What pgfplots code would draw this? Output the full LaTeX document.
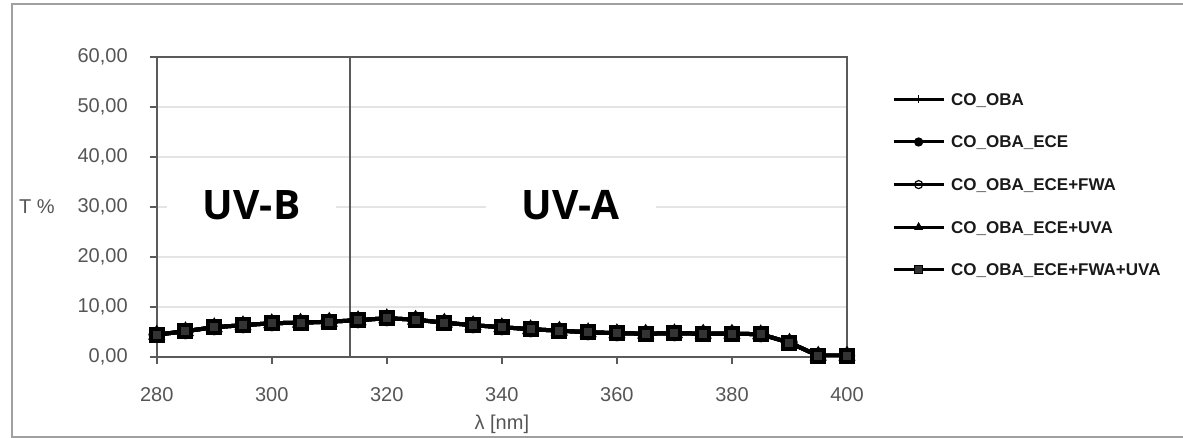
\documentclass[border=0pt]{standalone}
\usepackage{fontspec}
\setmainfont{Liberation Sans}
\newfontfamily\uvfont{Open Sans}
\usepackage{pgfplots}
\usepackage{pgfplotstable}
\pgfplotsset{compat=1.18}
\definecolor{axisgray}{HTML}{5A5A5A}
\definecolor{gridgray}{HTML}{E4E4E4}
\definecolor{labelgray}{HTML}{555555}
\definecolor{framegray}{HTML}{A0A0A0}

% transmittance T% vs wavelength (all five samples practically coincide)
\pgfplotstableread{
x T
280 4.4
285 5.1
290 5.9
295 6.3
300 6.7
305 6.8
310 7.0
315 7.3
320 7.7
325 7.4
330 6.8
335 6.3
340 5.9
345 5.5
350 5.2
355 4.9
360 4.7
365 4.6
370 4.7
375 4.6
380 4.6
385 4.5
390 2.8
395 0.2
400 0.2
}\spectrum

\begin{document}
\begin{tikzpicture}[x=1pt,y=1pt]
\useasboundingbox (0,0) rectangle (591.5,219);
\draw[framegray,line width=1pt] (592,217) -- (6,217) -- (6,0.6) -- (592,0.6);
\begin{axis}[
  at={(78.35pt,40.65pt)}, anchor=south west,
  scale only axis, width=345.15pt, height=150pt,
  xmin=280, xmax=400, ymin=0, ymax=60,
  xtick={280,300,...,400}, ytick={0,10,...,60},
  ymajorgrids, grid style={gridgray,line width=1pt},
  axis line style={axisgray,line width=1pt},
  tick align=outside, tick pos=left, major tick length=3.5pt,
  tick style={axisgray,line width=1pt},
  /pgf/number format/assume math mode=true,
  ticklabel style={font=\fontsize{10}{12}\selectfont, text=labelgray},
  x tick label style={yshift=-8.5pt},
  y tick label style={xshift=-7.5pt, /pgf/number format/.cd, fixed, fixed zerofill, precision=2, use comma},
  ylabel={T \%},
  ylabel style={rotate=-90, at={(axis description cs:-0.1734,0.5)}, anchor=center,
    font=\fontsize{10}{12}\selectfont, text=labelgray},
  xlabel={λ [nm]},
  xlabel style={at={(axis description cs:0.5,0)}, anchor=center, yshift=-33.6pt,
    font=\fontsize{10}{12}\selectfont, text=labelgray},
  legend cell align=left,
  legend style={at={(1.0648,0.879)}, anchor=north west, draw=none, fill=none,
    inner sep=0pt, row sep=15.3pt,
    nodes={inner sep=0pt, text height=6pt, text depth=0pt,
      font=\bfseries\fontsize{8.5}{10}\selectfont, text=black!90},
    /tikz/every odd column/.append style={column sep=3pt}},
  legend image code/.code={\draw[mark repeat=2,mark phase=2,#1,line width=1.5pt,mark size=2pt,
    every mark/.append style={line width=0.6pt}]
    plot coordinates {(0pt,0pt) (12.5pt,0pt) (25pt,0pt)};},
]
\draw[axisgray,line width=1pt] (axis cs:313.6,0) -- (axis cs:313.6,60);
\node[fill=white, inner xsep=18pt, inner ysep=3pt, font=\uvfont\bfseries\fontsize{20.3}{24}\selectfont]
  at (axis cs:296.5,30.3) {UV-B};
\node[fill=white, inner xsep=18pt, inner ysep=3pt, font=\uvfont\bfseries\fontsize{20.3}{24}\selectfont]
  at (axis cs:352,30.3) {UV-A};
\addplot[black, line width=2pt, mark=+, mark size=3pt] table[x=x,y=T] {\spectrum};
\addlegendentry{CO\_OBA}
\addplot[black, line width=2pt, mark=*, mark size=3pt] table[x=x,y=T] {\spectrum};
\addlegendentry{CO\_OBA\_ECE}
\addplot[black, line width=2pt, mark=o, mark size=3pt, mark options={fill=white}] table[x=x,y=T] {\spectrum};
\addlegendentry{CO\_OBA\_ECE+FWA}
\addplot[black, line width=2pt, mark=triangle*, mark size=3pt] table[x=x,y=T] {\spectrum};
\addlegendentry{CO\_OBA\_ECE+UVA}
\addplot[black, line width=2pt, mark=square*, mark size=3pt, mark options={fill=black!80}] table[x=x,y=T] {\spectrum};
\addlegendentry{CO\_OBA\_ECE+FWA+UVA}
\end{axis}
\end{tikzpicture}
\end{document}
